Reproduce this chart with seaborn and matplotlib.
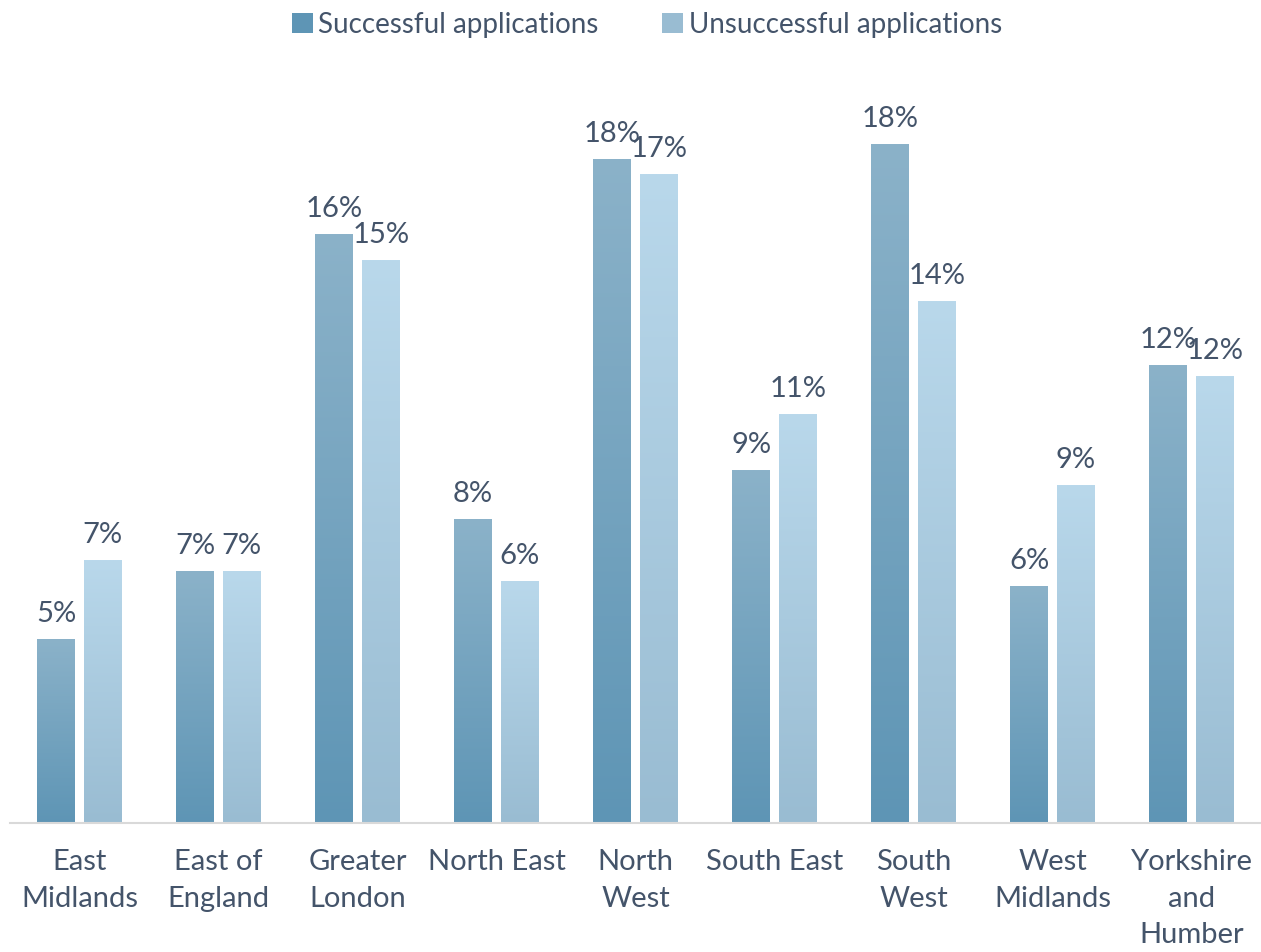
import matplotlib
matplotlib.use('Agg')
import matplotlib.pyplot as plt
import seaborn as sns
import pandas as pd
import numpy as np
from matplotlib.colors import LinearSegmentedColormap
from matplotlib.patches import Patch

# chart values
regions = ['East\nMidlands', 'East of\nEngland', 'Greater\nLondon', 'North East', 'North\nWest',
           'South East', 'South\nWest', 'West\nMidlands', 'Yorkshire\nand\nHumber']
successful = [0.049, 0.067, 0.157, 0.081, 0.177, 0.094, 0.181, 0.063, 0.122]
unsuccessful = [0.070, 0.067, 0.150, 0.0645, 0.173, 0.109, 0.139, 0.090, 0.119]
series = ['Successful applications', 'Unsuccessful applications']

df = pd.DataFrame({
    'region': regions * 2,
    'share': successful + unsuccessful,
    'series': [series[0]] * len(regions) + [series[1]] * len(regions),
})

text_col = '#44546A'
# top / bottom colours of the gradient fill for each series
grad = {
    series[0]: ('#8BB2C9', '#5E95B5'),
    series[1]: ('#B9D8EB', '#99BCD2'),
}
palette = {s: grad[s][1] for s in series}

sns.set_style('white')
plt.rcParams['font.family'] = ['Lato', 'DejaVu Sans']

fig = plt.figure(figsize=(12.61, 9.52), dpi=100)
ax = fig.add_axes([10 / 1261, 1 - 823 / 952, 1 - 10 / 1261, 750 / 952])

sns.barplot(data=df, x='region', y='share', hue='series', palette=palette,
            width=0.671, gap=0.19, ax=ax, legend=False, saturation=1)

# gradient fill over each bar
for cont, s in zip(ax.containers, series):
    cmap = LinearSegmentedColormap.from_list(s, [grad[s][1], grad[s][0]])
    for p in cont.patches:
        x0, w, h = p.get_x(), p.get_width(), p.get_height()
        p.set_alpha(0)
        ax.imshow(np.linspace(0, 1, 256).reshape(-1, 1), cmap=cmap, origin='lower',
                  extent=[x0, x0 + w, 0, h], aspect='auto', zorder=2)
    ax.bar_label(cont, fmt=lambda v: f'{v:.0%}', padding=9, fontsize=21, color=text_col)

ax.set_xlim(-0.5, len(regions) - 0.5)
ax.set_ylim(0, 0.2)
ax.set_yticks([])
ax.set_xlabel('')
ax.set_ylabel('')
for side in ['left', 'right', 'top']:
    ax.spines[side].set_visible(False)
ax.spines['bottom'].set_color('#D9D9D9')
ax.spines['bottom'].set_linewidth(1.5)
ax.tick_params(axis='x', length=0, pad=19, labelsize=21, labelcolor=text_col)
for t in ax.get_xticklabels():
    t.set_linespacing(1.5)

handles = [Patch(facecolor=grad[s][1], edgecolor='none', label=s) for s in series]
fig.legend(handles=handles, loc='upper center', bbox_to_anchor=(0.513, 1.014), ncol=2, frameon=False,
           fontsize=20, labelcolor=text_col, handlelength=0.75, handleheight=0.75,
           handletextpad=0.2, columnspacing=2.3)

fig.savefig('out.png', dpi=100)
